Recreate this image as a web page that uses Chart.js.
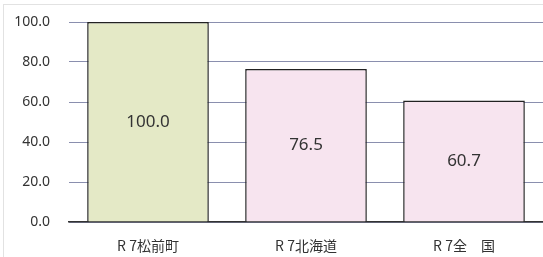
<!DOCTYPE html>
<html>
<head>
<meta charset="utf-8">
<script src="https://cdn.jsdelivr.net/npm/chart.js@4"></script>
<style>
  html, body { margin: 0; padding: 0; background: #fff; }
  #wrap { width: 543px; height: 257px; position: relative; }
</style>
</head>
<body>
<div id="wrap"><canvas id="chart"></canvas></div>
<script>
const categories = ["R 7松前町", "R 7北海道", "R 7全　国"];
const values = [100.0, 76.5, 60.7];
const yTicks = [0, 20, 40, 60, 80, 100];

const fillColors = ["#e4e9c6", "#f7e4ef", "#f7e4ef"];

// draws the value in the middle of each bar
const barLabels = {
  id: "barLabels",
  afterDatasetsDraw(chart) {
    const ctx = chart.ctx;
    const meta = chart.getDatasetMeta(0);
    ctx.save();
    ctx.font = "17px 'Noto Sans', sans-serif";
    ctx.fillStyle = "#333";
    ctx.textAlign = "center";
    ctx.textBaseline = "middle";
    meta.data.forEach(function (bar, i) {
      const mid = (bar.y + bar.base) / 2;
      ctx.fillText(values[i].toFixed(1), bar.x, mid);
    });
    ctx.restore();
  },
};

// faint frame round the picture
const frame = {
  id: "frame",
  beforeDraw(chart) {
    const ctx = chart.ctx;
    ctx.save();
    ctx.strokeStyle = "#e2e2e2";
    ctx.lineWidth = 1;
    ctx.strokeRect(3.5, 4.5, chart.width + 10, chart.height + 10);
    ctx.restore();
  },
};

new Chart(document.getElementById("chart"), {
  type: "bar",
  data: {
    labels: categories,
    datasets: [
      {
        data: values,
        backgroundColor: fillColors,
        borderColor: "#222",
        borderWidth: 1.5,
        borderSkipped: "bottom",
        barPercentage: 0.77,
        categoryPercentage: 1,
      },
    ],
  },
  options: {
    responsive: true,
    maintainAspectRatio: false,
    animation: false,
    layout: { padding: { top: 22, right: 0, left: 0, bottom: 0 } },
    plugins: {
      legend: { display: false },
      tooltip: { enabled: false },
    },
    scales: {
      x: {
        grid: { display: false },
        border: { display: true, color: "#333", width: 1.5 },
        ticks: {
          color: "#333",
          padding: 7,
          font: { family: "'Noto Sans CJK JP', sans-serif", size: 14 },
        },
        afterFit: function (scale) {
          scale.height = 35;
        },
      },
      y: {
        min: 0,
        max: 100,
        afterBuildTicks: function (scale) {
          scale.ticks = yTicks.map(function (v) {
            return { value: v };
          });
        },
        grid: { color: "#8a8fae", lineWidth: 1, drawTicks: false },
        border: { display: false },
        ticks: {
          color: "#333",
          padding: 19,
          font: { family: "'Noto Sans', sans-serif", size: 14 },
          callback: function (v) {
            return Number(v).toFixed(1);
          },
        },
        afterFit: function (scale) {
          scale.width = 69;
          // tick padding would otherwise push the plot down
          scale.paddingTop = 0;
          scale.paddingBottom = 0;
        },
      },
    },
  },
  plugins: [frame, barLabels],
});
</script>
</body>
</html>
